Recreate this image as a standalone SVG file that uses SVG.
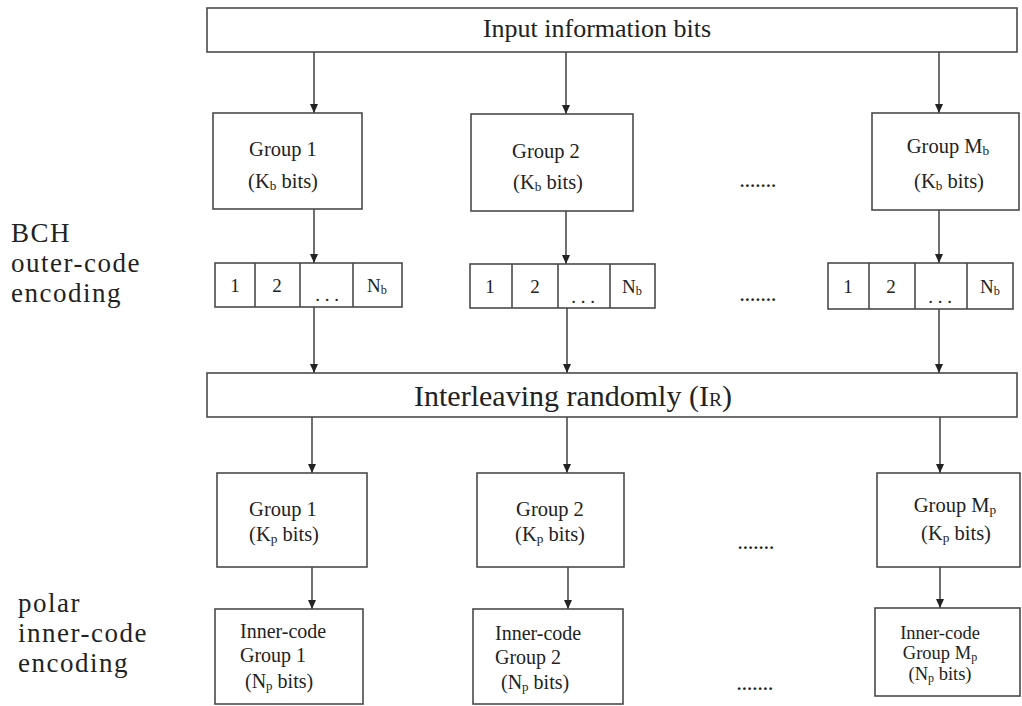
<svg xmlns="http://www.w3.org/2000/svg" width="1022" height="706" viewBox="0 0 1022 706">
  <defs>
    <marker id="arrow" markerWidth="9" markerHeight="8" refX="9" refY="4" orient="auto" markerUnits="userSpaceOnUse" viewBox="0 0 9 8">
      <path d="M0,0 L9,4 L0,8 Z" fill="#222"/>
    </marker>
    <style>
      .box { fill: #fff; stroke: #4a4a4a; stroke-width: 1.6; }
      .wire { stroke: #333; stroke-width: 1.4; fill: none; marker-end: url(#arrow); }
      text { fill: #222; }
      .big { font-size: 26px; }
      .huge { font-size: 30px; }
      .lbl { font-size: 20.5px; }
      .cell { font-size: 19px; }
      .small { font-size: 20px; }
      .smallM { font-size: 18.5px; }
      .side { font-size: 27px; letter-spacing: 1.5px; }
      .dots { font-size: 17px; font-weight: bold; letter-spacing: 1px; }
      .sub { font-size: 65%; }
    </style>
  </defs>

  <rect width="1022" height="706" fill="#fff"/>

  <g font-family="'Liberation Serif', 'DejaVu Serif', serif">
  <!-- side labels -->
  <g id="label-bch">
    <text class="side" x="11" y="242">BCH</text>
    <text class="side" x="11" y="272">outer-code</text>
    <text class="side" x="11" y="302">encoding</text>
  </g>
  <g id="label-polar">
    <text class="side" x="18" y="612">polar</text>
    <text class="side" x="18" y="642">inner-code</text>
    <text class="side" x="18" y="672">encoding</text>
  </g>

  <!-- connectors -->
  <g id="connectors">
    <line class="wire" x1="314" y1="52" x2="314" y2="113"/>
    <line class="wire" x1="566" y1="52" x2="566" y2="114"/>
    <line class="wire" x1="939" y1="52" x2="939" y2="113"/>

    <line class="wire" x1="314" y1="209" x2="314" y2="263"/>
    <line class="wire" x1="566" y1="211" x2="566" y2="264"/>
    <line class="wire" x1="939" y1="210" x2="939" y2="263"/>

    <line class="wire" x1="314" y1="307" x2="314" y2="373"/>
    <line class="wire" x1="567" y1="308" x2="567" y2="373"/>
    <line class="wire" x1="939" y1="309" x2="939" y2="373"/>

    <line class="wire" x1="312" y1="417" x2="312" y2="473"/>
    <line class="wire" x1="567" y1="417" x2="567" y2="473"/>
    <line class="wire" x1="940" y1="417" x2="940" y2="473"/>

    <line class="wire" x1="312" y1="567" x2="312" y2="609"/>
    <line class="wire" x1="568" y1="567" x2="568" y2="609"/>
    <line class="wire" x1="940" y1="567" x2="940" y2="608"/>
  </g>

  <!-- input bits -->
  <g id="input">
    <rect class="box" x="207" y="8" width="810" height="44"/>
    <text class="big" x="597" y="37" text-anchor="middle">Input information bits</text>
  </g>

  <!-- outer-code groups -->
  <g id="group-b1">
    <rect class="box" x="213" y="113" width="149" height="96"/>
    <text class="lbl" x="283" y="156" text-anchor="middle">Group 1</text>
    <text class="lbl" x="283" y="188" text-anchor="middle">(K<tspan class="sub" dy="2">b</tspan><tspan dy="-2"> bits)</tspan></text>
  </g>
  <g id="group-b2">
    <rect class="box" x="471" y="114" width="162" height="97"/>
    <text class="lbl" x="546" y="158" text-anchor="middle">Group 2</text>
    <text class="lbl" x="548" y="189" text-anchor="middle">(K<tspan class="sub" dy="2">b</tspan><tspan dy="-2"> bits)</tspan></text>
  </g>
  <g id="group-bM">
    <rect class="box" x="872" y="113" width="147" height="97"/>
    <text class="lbl" x="948" y="153" text-anchor="middle">Group  M<tspan class="sub" dy="2">b</tspan></text>
    <text class="lbl" x="949" y="188" text-anchor="middle">(K<tspan class="sub" dy="2">b</tspan><tspan dy="-2"> bits)</tspan></text>
  </g>
  <g id="dots-1"><text class="dots" x="740" y="187">.......</text></g>

  <!-- BCH codewords -->
  <g id="codeword-1">
    <rect class="box" x="215" y="263" width="187" height="44"/>
    <line class="box" x1="255" y1="263" x2="255" y2="307"/>
    <line class="box" x1="300" y1="263" x2="300" y2="307"/>
    <line class="box" x1="353" y1="263" x2="353" y2="307"/>
    <text class="cell" x="235" y="292" text-anchor="middle">1</text>
    <text class="cell" x="277" y="292" text-anchor="middle">2</text>
    <text class="cell" x="327" y="301" text-anchor="middle">. . .</text>
    <text class="cell" x="377" y="292" text-anchor="middle">N<tspan class="sub" dy="2">b</tspan></text>
  </g>
  <g id="codeword-2">
    <rect class="box" x="470" y="264" width="185" height="44"/>
    <line class="box" x1="512" y1="264" x2="512" y2="308"/>
    <line class="box" x1="558" y1="264" x2="558" y2="308"/>
    <line class="box" x1="610" y1="264" x2="610" y2="308"/>
    <text class="cell" x="490" y="293" text-anchor="middle">1</text>
    <text class="cell" x="535" y="293" text-anchor="middle">2</text>
    <text class="cell" x="583" y="303" text-anchor="middle">. . .</text>
    <text class="cell" x="632" y="293" text-anchor="middle">N<tspan class="sub" dy="2">b</tspan></text>
  </g>
  <g id="codeword-M">
    <rect class="box" x="828" y="263" width="185" height="46"/>
    <line class="box" x1="869" y1="263" x2="869" y2="309"/>
    <line class="box" x1="915" y1="263" x2="915" y2="309"/>
    <line class="box" x1="967" y1="263" x2="967" y2="309"/>
    <text class="cell" x="848" y="293" text-anchor="middle">1</text>
    <text class="cell" x="891" y="293" text-anchor="middle">2</text>
    <text class="cell" x="940" y="303" text-anchor="middle">. . .</text>
    <text class="cell" x="990" y="293" text-anchor="middle">N<tspan class="sub" dy="2">b</tspan></text>
  </g>
  <g id="dots-2"><text class="dots" x="740" y="301">.......</text></g>

  <!-- interleaver -->
  <g id="interleaver">
    <rect class="box" x="207" y="373" width="810" height="44"/>
    <text class="huge" x="573" y="406" text-anchor="middle">Interleaving  randomly (I<tspan class="sub">R</tspan>)</text>
  </g>

  <!-- inner-code groups -->
  <g id="group-p1">
    <rect class="box" x="217" y="473" width="150" height="94"/>
    <text class="lbl" x="283" y="516" text-anchor="middle">Group 1</text>
    <text class="lbl" x="284" y="541" text-anchor="middle">(K<tspan class="sub" dy="2">p</tspan><tspan dy="-2"> bits)</tspan></text>
  </g>
  <g id="group-p2">
    <rect class="box" x="477" y="473" width="147" height="94"/>
    <text class="lbl" x="550" y="516" text-anchor="middle">Group 2</text>
    <text class="lbl" x="550" y="541" text-anchor="middle">(K<tspan class="sub" dy="2">p</tspan><tspan dy="-2"> bits)</tspan></text>
  </g>
  <g id="group-pM">
    <rect class="box" x="877" y="473" width="143" height="94"/>
    <text class="lbl" x="955" y="512" text-anchor="middle">Group M<tspan class="sub" dy="2">p</tspan></text>
    <text class="lbl" x="956" y="540" text-anchor="middle">(K<tspan class="sub" dy="2">p</tspan><tspan dy="-2"> bits)</tspan></text>
  </g>
  <g id="dots-3"><text class="dots" x="738" y="549">.......</text></g>

  <!-- polar codewords -->
  <g id="inner-1">
    <rect class="box" x="215" y="609" width="148" height="95"/>
    <text class="small" x="240" y="638">Inner-code</text>
    <text class="small" x="240" y="662">Group 1</text>
    <text class="small" x="245" y="688">(N<tspan class="sub" dy="2">p</tspan><tspan dy="-2"> bits)</tspan></text>
  </g>
  <g id="inner-2">
    <rect class="box" x="473" y="609" width="150" height="95"/>
    <text class="small" x="495" y="640">Inner-code</text>
    <text class="small" x="495" y="664">Group  2</text>
    <text class="small" x="501" y="689">(N<tspan class="sub" dy="2">p</tspan><tspan dy="-2"> bits)</tspan></text>
  </g>
  <g id="inner-M">
    <rect class="box" x="875" y="608" width="145" height="88"/>
    <text class="smallM" x="940" y="639" text-anchor="middle">Inner-code</text>
    <text class="smallM" x="940" y="659" text-anchor="middle">Group M<tspan class="sub" dy="2">p</tspan></text>
    <text class="smallM" x="940" y="680" text-anchor="middle">(N<tspan class="sub" dy="2">p</tspan><tspan dy="-2"> bits)</tspan></text>
  </g>
  <g id="dots-4"><text class="dots" x="737" y="690">.......</text></g>
  </g>
</svg>
